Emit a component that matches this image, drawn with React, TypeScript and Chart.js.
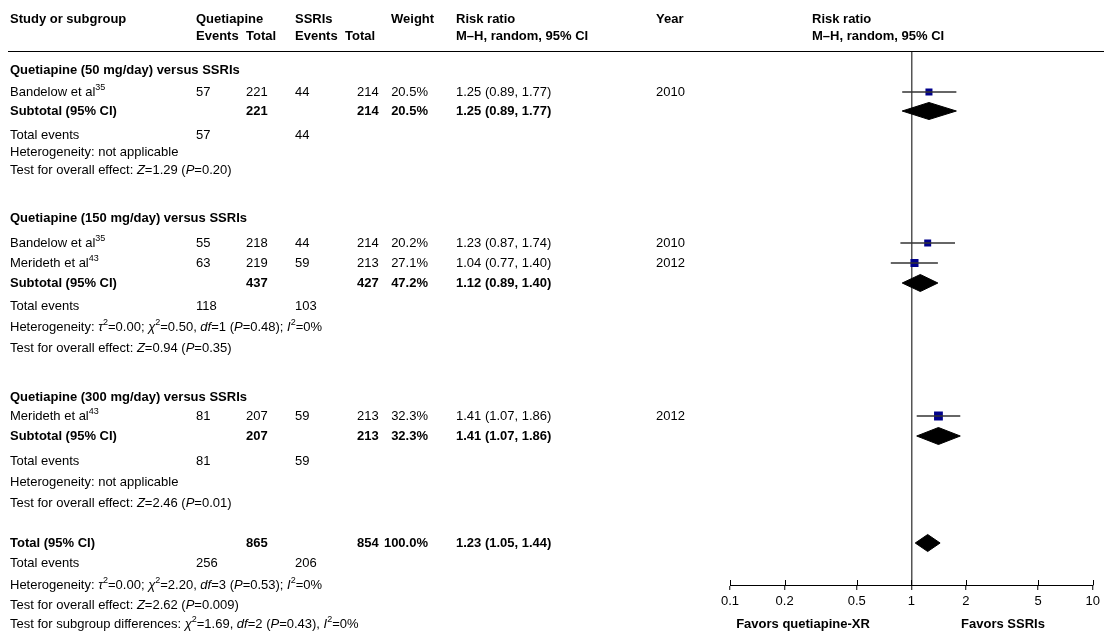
import React, { useEffect, useRef } from "react";
import { Chart, registerables } from "chart.js";

Chart.register(...registerables);

// ---------------- DATA ----------------
const studyNames = ["Bandelow et al", "Bandelow et al", "Merideth et al", "Merideth et al"];
const studyRefs = ["35", "35", "43", "43"];
const studyGroup = [0, 1, 1, 2];
const qEvents = [57, 55, 63, 81];
const qTotal = [221, 218, 219, 207];
const sEvents = [44, 44, 59, 59];
const sTotal = [214, 214, 213, 213];
const studyWeight = [20.5, 20.2, 27.1, 32.3];
const studyRR = [1.25, 1.23, 1.04, 1.41];
const studyLow = [0.89, 0.87, 0.77, 1.07];
const studyHigh = [1.77, 1.74, 1.4, 1.86];
const studyYear = [2010, 2010, 2012, 2012];

const groupNames = [
  "Quetiapine (50 mg/day) versus SSRIs",
  "Quetiapine (150 mg/day) versus SSRIs",
  "Quetiapine (300 mg/day) versus SSRIs",
];
const subQTotal = [221, 437, 207];
const subSTotal = [214, 427, 213];
const subWeight = [20.5, 47.2, 32.3];
const subRR = [1.25, 1.12, 1.41];
const subLow = [0.89, 0.89, 1.07];
const subHigh = [1.77, 1.4, 1.86];
const subQEvents = [57, 118, 81];
const subSEvents = [44, 103, 59];
const subTau2: (string | null)[] = [null, "0.00", null];
const subChi2: (string | null)[] = [null, "0.50", null];
const subDf: (number | null)[] = [null, 1, null];
const subHetP: (string | null)[] = [null, "0.48", null];
const subI2: (number | null)[] = [null, 0, null];
const subZ = ["1.29", "0.94", "2.46"];
const subP = ["0.20", "0.35", "0.01"];

const totQTotal = 865;
const totSTotal = 854;
const totWeight = 100.0;
const totRR = 1.23;
const totLow = 1.05;
const totHigh = 1.44;
const totQEvents = 256;
const totSEvents = 206;
const totTau2 = "0.00";
const totChi2 = "2.20";
const totDf = 3;
const totHetP = "0.53";
const totI2 = 0;
const totZ = "2.62";
const totP = "0.009";
const diffChi2 = "1.69";
const diffDf = 2;
const diffP = "0.43";
const diffI2 = 0;

const axisTicks = [0.1, 0.2, 0.5, 1, 2, 5, 10];
const favorsLeft = "Favors quetiapine-XR";
const favorsRight = "Favors SSRIs";

// ---------------- LAYOUT (row slots, column positions) ----------------
const HEADER_ROWS = [19, 36];
const GROUP_ROWS = [
  { head: 70, studies: [92], sub: 111, events: 135, het: 152, test: 170 },
  { head: 218, studies: [243, 263], sub: 283, events: 306, het: 327, test: 348 },
  { head: 397, studies: [416], sub: 436, events: 461, het: 482, test: 503 },
];
const TOTAL_ROWS = { total: 543, events: 563, het: 585, test: 605, diff: 624 };
const COL = { study: 10, qEv: 196, qTot: 246, sEv: 295, sTot: 357, sTotHead: 345, wRight: 428, wHead: 391, rr: 456, year: 656, plotHead: 812 };
const FAVORS_X = [803, 1003];
const FAVORS_Y = 624;
const DIAMOND_HALF = 8.5;

const FONT = '"Liberation Sans", Arial, Helvetica, sans-serif';

type Seg = { t: string; b?: boolean; i?: boolean; sup?: boolean };
type Cell = { x: number; y: number; segs: Seg[]; align?: "left" | "right" | "center" };

const fmtCI = (e: number, l: number, h: number) => `${e.toFixed(2)} (${l.toFixed(2)}, ${h.toFixed(2)})`;
const plain = (t: string | number, b = false): Seg[] => [{ t: String(t), b }];

function hetSegs(tau: string | null, chi: string | null, df: number | null, p: string | null, i2: number | null): Seg[] {
  if (tau === null) return [{ t: "Heterogeneity: not applicable" }];
  return [
    { t: "Heterogeneity: " }, { t: "τ", i: true }, { t: "2", sup: true }, { t: `=${tau}; ` },
    { t: "χ", i: true }, { t: "2", sup: true }, { t: `=${chi}, ` }, { t: "df", i: true },
    { t: `=${df} (` }, { t: "P", i: true }, { t: `=${p}); ` }, { t: "I", i: true }, { t: "2", sup: true }, { t: `=${i2}%` },
  ];
}
function testSegs(z: string, p: string): Seg[] {
  return [{ t: "Test for overall effect: " }, { t: "Z", i: true }, { t: `=${z} (` }, { t: "P", i: true }, { t: `=${p})` }];
}

function buildCells(): Cell[] {
  const cells: Cell[] = [];
  const [h1, h2] = HEADER_ROWS;
  const hb = (x: number, y: number, t: string) => cells.push({ x, y, segs: plain(t, true) });
  hb(COL.study, h1, "Study or subgroup");
  hb(COL.qEv, h1, "Quetiapine");
  hb(COL.sEv, h1, "SSRIs");
  hb(COL.wHead, h1, "Weight");
  hb(COL.rr, h1, "Risk ratio");
  hb(COL.year, h1, "Year");
  hb(COL.plotHead, h1, "Risk ratio");
  hb(COL.qEv, h2, "Events");
  hb(COL.qTot, h2, "Total");
  hb(COL.sEv, h2, "Events");
  hb(COL.sTotHead, h2, "Total");
  hb(COL.rr, h2, "M–H, random, 95% CI");
  hb(COL.plotHead, h2, "M–H, random, 95% CI");

  groupNames.forEach((name, g) => {
    const r = GROUP_ROWS[g];
    cells.push({ x: COL.study, y: r.head, segs: plain(name, true) });
    let k = 0;
    studyNames.forEach((sn, i) => {
      if (studyGroup[i] !== g) return;
      const y = r.studies[k++];
      cells.push({ x: COL.study, y, segs: [{ t: sn }, { t: studyRefs[i], sup: true }] });
      cells.push({ x: COL.qEv, y, segs: plain(qEvents[i]) });
      cells.push({ x: COL.qTot, y, segs: plain(qTotal[i]) });
      cells.push({ x: COL.sEv, y, segs: plain(sEvents[i]) });
      cells.push({ x: COL.sTot, y, segs: plain(sTotal[i]) });
      cells.push({ x: COL.wRight, y, segs: plain(`${studyWeight[i].toFixed(1)}%`), align: "right" });
      cells.push({ x: COL.rr, y, segs: plain(fmtCI(studyRR[i], studyLow[i], studyHigh[i])) });
      cells.push({ x: COL.year, y, segs: plain(studyYear[i]) });
    });
    cells.push({ x: COL.study, y: r.sub, segs: plain("Subtotal (95% CI)", true) });
    cells.push({ x: COL.qTot, y: r.sub, segs: plain(subQTotal[g], true) });
    cells.push({ x: COL.sTot, y: r.sub, segs: plain(subSTotal[g], true) });
    cells.push({ x: COL.wRight, y: r.sub, segs: plain(`${subWeight[g].toFixed(1)}%`, true), align: "right" });
    cells.push({ x: COL.rr, y: r.sub, segs: plain(fmtCI(subRR[g], subLow[g], subHigh[g]), true) });
    cells.push({ x: COL.study, y: r.events, segs: plain("Total events") });
    cells.push({ x: COL.qEv, y: r.events, segs: plain(subQEvents[g]) });
    cells.push({ x: COL.sEv, y: r.events, segs: plain(subSEvents[g]) });
    cells.push({ x: COL.study, y: r.het, segs: hetSegs(subTau2[g], subChi2[g], subDf[g], subHetP[g], subI2[g]) });
    cells.push({ x: COL.study, y: r.test, segs: testSegs(subZ[g], subP[g]) });
  });

  const t = TOTAL_ROWS;
  cells.push({ x: COL.study, y: t.total, segs: plain("Total (95% CI)", true) });
  cells.push({ x: COL.qTot, y: t.total, segs: plain(totQTotal, true) });
  cells.push({ x: COL.sTot, y: t.total, segs: plain(totSTotal, true) });
  cells.push({ x: COL.wRight, y: t.total, segs: plain(`${totWeight.toFixed(1)}%`, true), align: "right" });
  cells.push({ x: COL.rr, y: t.total, segs: plain(fmtCI(totRR, totLow, totHigh), true) });
  cells.push({ x: COL.study, y: t.events, segs: plain("Total events") });
  cells.push({ x: COL.qEv, y: t.events, segs: plain(totQEvents) });
  cells.push({ x: COL.sEv, y: t.events, segs: plain(totSEvents) });
  cells.push({ x: COL.study, y: t.het, segs: hetSegs(totTau2, totChi2, totDf, totHetP, totI2) });
  cells.push({ x: COL.study, y: t.test, segs: testSegs(totZ, totP) });
  cells.push({
    x: COL.study, y: t.diff,
    segs: [
      { t: "Test for subgroup differences: " }, { t: "χ", i: true }, { t: "2", sup: true }, { t: `=${diffChi2}, ` },
      { t: "df", i: true }, { t: `=${diffDf} (` }, { t: "P", i: true }, { t: `=${diffP}), ` },
      { t: "I", i: true }, { t: "2", sup: true }, { t: `=${diffI2}%` },
    ],
  });
  cells.push({ x: FAVORS_X[0], y: FAVORS_Y, segs: plain(favorsLeft, true), align: "center" });
  cells.push({ x: FAVORS_X[1], y: FAVORS_Y, segs: plain(favorsRight, true), align: "center" });
  return cells;
}

const fontFor = (s: Seg) => `${s.i ? "italic " : ""}${s.b ? "bold " : ""}${s.sup ? 9 : 13}px ${FONT}`;

function drawRich(ctx: CanvasRenderingContext2D, c: Cell, y: number) {
  let w = 0;
  for (const s of c.segs) {
    ctx.font = fontFor(s);
    w += ctx.measureText(s.t).width;
  }
  let x = c.align === "right" ? c.x - w : c.align === "center" ? c.x - w / 2 : c.x;
  for (const s of c.segs) {
    ctx.font = fontFor(s);
    ctx.fillText(s.t, x, s.sup ? y - 4 : y);
    x += ctx.measureText(s.t).width;
  }
}

const tablePlugin = {
  id: "forestTable",
  afterDraw(chart: any) {
    const ctx: CanvasRenderingContext2D = chart.ctx;
    const xs = chart.scales.x;
    const ys = chart.scales.y;
    const area = chart.chartArea;
    ctx.save();
    // header rule
    ctx.strokeStyle = "#000";
    ctx.lineWidth = 1;
    ctx.beginPath();
    ctx.moveTo(8, area.top + 0.5);
    ctx.lineTo(chart.width, area.top + 0.5);
    ctx.stroke();
    // upper halves of the axis ticks
    ctx.beginPath();
    for (const v of axisTicks) {
      const px = Math.round(xs.getPixelForValue(v)) + 0.5;
      ctx.moveTo(px, area.bottom - 5);
      ctx.lineTo(px, area.bottom);
    }
    ctx.stroke();
    // texts
    ctx.fillStyle = "#000";
    ctx.textBaseline = "middle";
    ctx.textAlign = "left";
    for (const c of buildCells()) drawRich(ctx, c, ys.getPixelForValue(c.y));
    ctx.restore();
  },
};

function studyRowY(i: number) {
  const g = studyGroup[i];
  let k = 0;
  for (let j = 0; j < i; j++) if (studyGroup[j] === g) k++;
  return GROUP_ROWS[g].studies[k];
}

function diamond(est: number, lo: number, hi: number, y: number) {
  return [
    { x: lo, y },
    { x: est, y: y - DIAMOND_HALF },
    { x: hi, y },
    { x: est, y: y + DIAMOND_HALF },
    { x: lo, y },
  ];
}

export default function App() {
  const ref = useRef<HTMLCanvasElement>(null);
  useEffect(() => {
    const canvas = ref.current;
    if (!canvas) return;
    const datasets: any[] = [];
    studyNames.forEach((_, i) => {
      const y = studyRowY(i);
      datasets.push({
        data: [{ x: studyLow[i], y }, { x: studyHigh[i], y }],
        showLine: true, borderColor: "#333", borderWidth: 1.5, pointRadius: 0, fill: false,
      });
    });
    datasets.push({
      data: studyNames.map((_, i) => ({ x: studyRR[i], y: studyRowY(i) })),
      showLine: false,
      pointStyle: "rect",
      pointRadius: studyWeight.map((w) => (1.55 * Math.sqrt(w)) / (2 * Math.SQRT1_2)),
      backgroundColor: "#00008b",
      borderWidth: 0,
    });
    groupNames.forEach((_, g) => {
      datasets.push({
        data: diamond(subRR[g], subLow[g], subHigh[g], GROUP_ROWS[g].sub),
        showLine: true, borderColor: "#000", backgroundColor: "#000", borderWidth: 1, pointRadius: 0, fill: "shape", tension: 0,
      });
    });
    datasets.push({
      data: diamond(totRR, totLow, totHigh, TOTAL_ROWS.total),
      showLine: true, borderColor: "#000", backgroundColor: "#000", borderWidth: 1, pointRadius: 0, fill: "shape", tension: 0,
    });

    const chart = new Chart(canvas, {
      type: "scatter",
      data: { datasets },
      plugins: [tablePlugin],
      options: {
        animation: false,
        responsive: false,
        devicePixelRatio: 1,
        events: [],
        layout: { padding: { left: 730, right: 9, top: 51, bottom: 0 } },
        plugins: { legend: { display: false }, tooltip: { enabled: false }, title: { display: false } },
        scales: {
          x: {
            type: "logarithmic",
            min: 0.1,
            max: 10,
            position: "bottom",
            afterBuildTicks: (s: any) => {
              s.ticks = axisTicks.map((v) => ({ value: v }));
            },
            afterFit: (s: any) => {
              s.height = 48;
            },
            grid: {
              display: true,
              drawOnChartArea: true,
              drawTicks: true,
              tickLength: 5,
              color: (c: any) => (c.tick && c.tick.value === 1 ? "#555" : "rgba(0,0,0,0)"),
              lineWidth: 1.5,
              tickColor: "#000",
              tickWidth: 1,
            },
            border: { display: true, color: "#000", width: 1 },
            ticks: {
              color: "#000",
              font: { family: FONT, size: 13 },
              padding: 4,
              autoSkip: false,
              maxRotation: 0,
              callback: (v: any) => String(v),
            },
          },
          y: { type: "linear", display: false, min: 51, max: 585, reverse: true },
        },
      } as any,
    });
    return () => chart.destroy();
  }, []);
  return (
    <div style={{ position: "absolute", left: 0, top: 0, width: 1104, height: 633, background: "#fff" }}>
      <canvas ref={ref} width={1104} height={633} style={{ display: "block", width: 1104, height: 633 }} />
    </div>
  );
}
